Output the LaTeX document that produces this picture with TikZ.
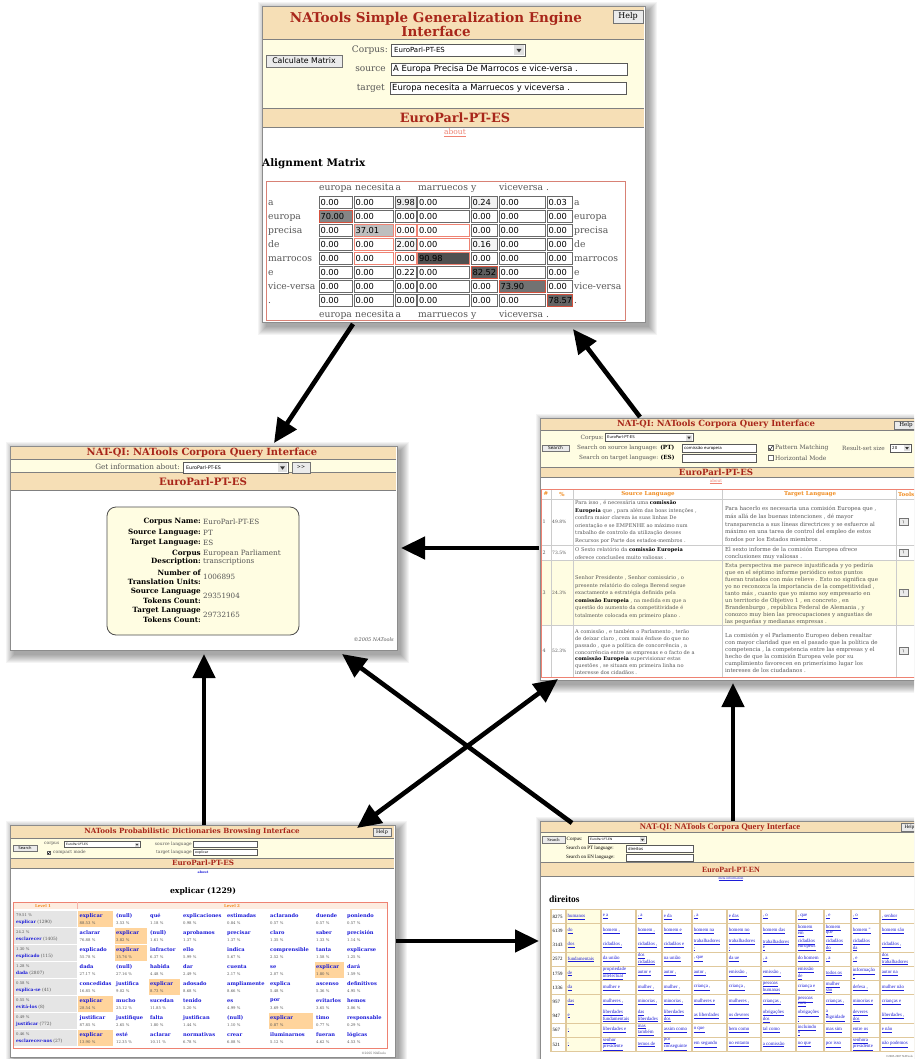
\documentclass[tikz,border=0pt]{standalone}
\usepackage{fontspec}
\setmainfont{DejaVu Serif}
\newfontfamily\dsans{DejaVu Sans}
\newfontfamily\tms{Liberation Serif}
\usetikzlibrary{arrows.meta}
\definecolor{wheat}{HTML}{F6DFB6}
\definecolor{lyel}{HTML}{FFFDE2}
\definecolor{ttl}{HTML}{A8261A}
\definecolor{gtx}{HTML}{555555}
\definecolor{sal}{HTML}{EE8272}
\definecolor{rb}{HTML}{D4503C}
\definecolor{mg}{HTML}{6A6A6A}
\definecolor{org}{HTML}{F08A1C}
\definecolor{lnk}{HTML}{1C1CD8}
\definecolor{hl}{HTML}{FFD49C}
\definecolor{tanc}{HTML}{E0C99C}
\definecolor{peach}{HTML}{FDECE0}
\definecolor{cA}{HTML}{858585}
\definecolor{cB}{HTML}{BEBEBE}
\definecolor{cC}{HTML}{505050}
\definecolor{cD}{HTML}{5C5C5C}
\definecolor{cE}{HTML}{727272}
\definecolor{cF}{HTML}{646464}
\newcommand\fsz[1]{\fontsize{#1}{#1}\selectfont}
\newcommand\fszl[2]{\fontsize{#1}{#2}\selectfont}
\newcommand\bk[1]{\textcolor{black}{\textbf{#1}}}
\newcommand\lk[1]{\underline{#1}}
\def\mkc#1{\mkcA#1||\relax}
\def\mkcA#1|#2|#3\relax{\lk{#1}\ifx\relax#2\relax\else\\\lk{#2}\fi}
\newcommand\wshadow[4]{\foreach \k in {1,...,9}{\fill[black,opacity=0.045] ({#1+5-\k},{#2+5-\k}) rectangle ({#3+3+\k},{#4+4+\k});}}
\newcommand\btn[6]{\draw[fill=black!8, draw=black!55, line width=0.6pt] (#1,#2) rectangle (#3,#4); \node[inner sep=0pt, font=#5] at ({(#1+#3)/2},{(#2+#4)/2}) {#6};}
\newcommand\tbox[4]{\draw[fill=white, draw=black!65, line width=0.6pt] (#1,#2) rectangle (#3,#4);}
\newcommand\sel[4]{\tbox{#1}{#2}{#3}{#4}\fill[black!12] ({#3-(#4-#2)+1},{#2+1}) rectangle ({#3-1},{#4-1}); \fill[black!80] ({#3-(#4-#2)/2-0.22*(#4-#2)},{(#2+#4)/2-0.1*(#4-#2)}) -- ({#3-(#4-#2)/2+0.22*(#4-#2)},{(#2+#4)/2-0.1*(#4-#2)}) -- ({#3-(#4-#2)/2},{(#2+#4)/2+0.2*(#4-#2)}) -- cycle;}
\newcommand\mrow[2]{%
 \foreach \val/\fc/\bc [count=\j] in {#2} {
  \pgfmathsetmacro\xa{{319,354,395,417.5,471,499,547}[\j-1]}
  \pgfmathsetmacro\xb{{352,393,416,469,497,545,572}[\j-1]}
  \pgfmathsetmacro\ya{196+14*(#1-1)}
  \draw[fill=\fc, draw=\bc, line width=0.9pt] (\xa,\ya) rectangle (\xb,\ya+12);
  \node[tx, font=\dsans\fsz{8.3}] at (\xa+1.3,\ya+6) {\val};
 }}
\newcommand\prow[5]{%
 \pgfmathsetmacro\ytop{911+17*(#1-1)}
 \fill[black!10] (14,\ytop) rectangle (76.5,\ytop+16);
 \node[tx, font=\fsz{3.8}, text=gtx] at (16,\ytop+4.5) {#2~\%};
 \node[tx, font=\fsz{4.4}] at (16,\ytop+11.5) {\textcolor{lnk}{\textbf{#3}} \textcolor{gtx}{(#4)}};
 \foreach \w/\p/\fc [count=\j] in {#5} {
   \pgfmathsetmacro\xa{{77.5,114,148,181,225,268,314,345,387}[\j-1]}
   \pgfmathsetmacro\xb{{77.5,114,148,181,225,268,314,345,387}[\j]}
   \fill[\fc] (\xa+0.8,\ytop) rectangle (\xb-0.8,\ytop+16);
   \node[tx, font=\bfseries\fsz{5.1}, text=lnk] at (\xa+2,\ytop+4.8) {\w};
   \node[tx, font=\fsz{3.8}, text=gtx] at (\xa+2,\ytop+11.8) {\p~\%};
 }}
\newcommand\nrow[4]{%
 \pgfmathsetmacro\ytop{910+14.2*(#1-1)}
 \pgfmathsetmacro\ymid{\ytop+6.7}
 \fill[white] (551.8,\ytop) rectangle (565.2,\ytop+13.4);
 \fill[lyel] (566.8,\ytop) rectangle (600.2,\ytop+13.4);
 \node[tx, font=\tms\fsz{4.9}] at (552.5,\ymid) {#2};
 \node[tx, font=\tms\fsz{4.9}, text=lnk] at (567.5,\ymid) {\lk{#3}};
 \foreach \cc [count=\j] in {#4} {
   \pgfmathsetmacro\xa{{601,636,662,692,727,761,796,824,851,880,916}[\j-1]}
   \pgfmathsetmacro\xb{{601,636,662,692,727,761,796,824,851,880,916}[\j]}
   \fill[white] (\xa+0.8,\ytop) rectangle (\xb-0.8,\ytop+13.4);
   \node[tx, align=left, font=\tms\fszl{4.9}{5.4}, text=lnk] at (\xa+1.6,\ymid) {\expandafter\mkc\expandafter{\cc}};
 }}
\begin{document}
\begin{tikzpicture}[x=1pt,y=-1pt,
 tx/.style={inner sep=0pt,anchor=west},
 bx/.style={inner sep=0pt,anchor=base west},
 cx/.style={inner sep=0pt},
 ex/.style={inner sep=0pt,anchor=east},
 win/.style={draw=black!45, fill=white, line width=0.8pt, inner sep=0pt, anchor=north west},
 bandln/.style={draw=black!50, line width=0.8pt},
 arr/.style={line width=4.6pt, -{Triangle[length=24pt,width=22pt]}},
 darr/.style={line width=4.6pt, {Triangle[length=24pt,width=22pt]}-{Triangle[length=24pt,width=22pt]}}]
\useasboundingbox (0,0) rectangle (914,1059);
\clip (0,0) rectangle (914,1059);
\fill[white] (0,0) rectangle (914,1059);
%%%%%%%%%%%%%%%% W1 top
\wshadow{262}{6}{645}{322}
\node[win, minimum width=383pt, minimum height=316pt] (w1) at (262,6) {};
\fill[wheat] (263,7) rectangle (644,39);
\fill[lyel] (263,39) rectangle (644,108);
\fill[wheat] (263,108) rectangle (644,127);
\draw[bandln] (263,39)--(644,39) (263,108)--(644,108) (263,127)--(644,127);
\node[cx, font=\bfseries\fszl{13.5}{14}, text=ttl, align=center] (w1t) at (436,24) {NATools Simple Generalization Engine\\Interface};
\btn{613}{10}{643}{23}{\fsz{8}}{Help}
\btn{266}{55}{342}{67}{\dsans\fsz{7.8}}{Calculate Matrix}
\node[ex, font=\fsz{9}, text=gtx] at (388,50) {Corpus:};
\sel{391}{44}{525}{56}
\node[tx, font=\dsans\fsz{7}] at (394,50) {EuroParl-PT-ES};
\node[ex, font=\fsz{9}, text=gtx] at (386,69) {source};
\tbox{391}{63}{627}{75}
\node[tx, font=\dsans\fsz{8.4}] at (393,69) {A Europa Precisa De Marrocos e vice-versa .};
\node[ex, font=\fsz{9}, text=gtx] at (385,88) {target};
\tbox{390}{82}{626}{94}
\node[tx, font=\dsans\fsz{8.4}] at (392,88) {Europa necesita a Marruecos y viceversa .};
\node[cx, font=\bfseries\fsz{12.8}, text=ttl] at (455,118) {EuroParl-PT-ES};
\node[cx, font=\fsz{7.5}, text=sal] at (455,133) {\underline{about}};
\node[tx, font=\bfseries\fsz{10.4}] at (262,164) {Alignment Matrix};
\draw[draw=sal!80!gray, line width=0.8pt] (266,181) rectangle (625,320);
\foreach \h/\x in {europa/319, necesita/355, a/395.5, marruecos/418, y/471, viceversa/499, ./546} {
  \node[bx, font=\fsz{9.2}, text=gtx] at (\x,191) {\h};
  \node[bx, font=\fsz{9.2}, text=gtx] at (\x,317) {\h};}
\foreach \r [count=\i] in {a,europa,precisa,de,marrocos,e,vice-versa,.} {
  \node[bx, font=\fsz{9.2}, text=gtx] at (268,{196+14*(\i-1)+9.2}) {\r};
  \node[bx, font=\fsz{9.2}, text=gtx] at (574,{196+14*(\i-1)+9.2}) {\r};}
\mrow{1}{0.00/white/mg, 0.00/white/mg, 9.98/black!8/mg, 0.00/white/mg, 0.24/black!5/mg, 0.00/white/mg, 0.03/white/mg}
\mrow{2}{70.00/cA/rb, 0.00/white/mg, 0.00/white/mg, 0.00/white/mg, 0.00/white/mg, 0.00/white/mg, 0.00/white/mg}
\mrow{3}{0.00/white/mg, 37.01/cB/sal, 0.00/white/sal, 0.00/white/sal, 0.00/white/mg, 0.00/white/mg, 0.00/white/mg}
\mrow{4}{0.00/white/mg, 0.00/white/sal, 2.00/black!4/mg, 0.00/white/sal, 0.16/black!4/mg, 0.00/white/mg, 0.00/white/mg}
\mrow{5}{0.00/white/mg, 0.00/white/sal, 0.00/white/sal, 90.98/cC/sal, 0.00/white/mg, 0.00/white/mg, 0.00/white/mg}
\mrow{6}{0.00/white/mg, 0.00/white/mg, 0.22/white/mg, 0.00/white/mg, 82.52/cD/rb, 0.00/white/mg, 0.00/white/mg}
\mrow{7}{0.00/white/mg, 0.00/white/mg, 0.00/white/mg, 0.00/white/mg, 0.00/white/mg, 73.90/cE/rb, 0.00/white/mg}
\mrow{8}{0.00/white/mg, 0.00/white/mg, 0.00/white/mg, 0.00/white/mg, 0.00/white/mg, 0.00/white/mg, 78.57/cF/rb}
%%%%%%%%%%%%%%%% W2 left middle
\wshadow{10}{446}{397}{650}
\node[win, minimum width=387pt, minimum height=204pt] (w2) at (10,446) {};
\fill[wheat] (11,447) rectangle (396,459);
\fill[lyel] (11,459) rectangle (396,472);
\fill[wheat] (11,472) rectangle (396,490);
\draw[bandln] (11,459)--(396,459) (11,472)--(396,472) (11,490)--(396,490);
\node[cx, font=\bfseries\fsz{9.9}, text=ttl] at (202,453) {NAT-QI: NATools Corpora Query Interface};
\node[ex, font=\fsz{7.3}, text=gtx] at (180,467) {Get information about:};
\sel{183}{462}{288}{473}
\node[tx, font=\dsans\fsz{4.8}] at (186,467.5) {EuroParl-PT-ES};
\btn{292}{462}{310}{473}{\dsans\fsz{4.8}}{>>}
\node[cx, font=\bfseries\fsz{10.2}, text=ttl] at (203,482) {EuroParl-PT-ES};
\draw[rounded corners=9pt, fill=lyel, draw=black!70, line width=0.8pt] (107,507) rectangle (299,635);
\foreach \yy/\lab in {522/Corpus Name:, 533/Source Language:, 543/Target Language:, 554/Corpus, 562/Description:, 573/Number of, 582/Translation Units:, 592/Source Language, 601/Tokens Count:, 611/Target Language, 620/Tokens Count:}
  \node[ex, font=\bfseries\fsz{7.2}] at (201,\yy) {\lab};
\foreach \yy/\val in {522/EuroParl-PT-ES, 533/PT, 543/ES, 554/European Parliament, 562/transcriptions, 577/1006895, 596/29351904, 615/29732165}
  \node[tx, font=\fsz{7.2}, text=gtx] at (203,\yy) {\val};
\node[ex, font=\itshape\fsz{5}, text=gtx] at (394,640) {©2005 NATools};
%%%%%%%%%%%%%%%% W3 right middle
\wshadow{540}{418}{930}{680}
\node[win, minimum width=380pt, minimum height=262pt] (w3) at (540,418) {};
\fill[wheat] (541,419) rectangle (920,430);
\fill[lyel] (541,430) rectangle (920,467);
\fill[wheat] (541,467) rectangle (920,477);
\draw[bandln] (541,430)--(920,430) (541,467)--(920,467) (541,477)--(920,477);
\node[cx, font=\bfseries\fsz{8.5}, text=ttl] at (716,424.5) {NAT-QI: NATools Corpora Query Interface};
\btn{894}{421}{918}{429}{\fsz{5.5}}{Help}
\node[ex, font=\fsz{5.8}, text=gtx] at (604,437.5) {Corpus:};
\sel{605}{433.5}{693}{441.5}
\node[tx, font=\dsans\fsz{3.8}] at (607,437.5) {EuroParl-PT-ES};
\btn{542}{445}{569}{451.5}{\dsans\fsz{4.3}}{Search}
\node[tx, font=\fsz{5.7}, text=gtx] at (577,448) {Search on source language: \bk{(PT)}};
\tbox{682}{444}{756}{452}
\node[tx, font=\dsans\fsz{4}] at (684,448) {comissão europeia};
\node[tx, font=\fsz{5.7}, text=gtx] at (579,458) {Search on target language: \bk{(ES)}};
\tbox{682}{454}{756}{462}
\draw[black!60, fill=white] (768,445.5) rectangle (773,450.5);
\draw[black, line width=0.5pt] (768.8,448) -- (770.2,449.8) -- (772.5,446);
\node[tx, font=\fsz{6}, text=gtx] at (775,448) {Pattern Matching};
\draw[black!60, fill=white] (768,455.5) rectangle (773,460.5);
\node[tx, font=\fsz{6}, text=gtx] at (775,458) {Horizontal Mode};
\node[tx, font=\fsz{5.8}, text=gtx] at (842,448) {Result-set size};
\sel{890}{444}{911}{452}
\node[tx, font=\dsans\fsz{4}] at (892,448) {20};
\node[cx, font=\bfseries\fsz{8.6}, text=ttl] at (716,472) {EuroParl-PT-ES};
\node[cx, font=\fsz{4.2}, text=sal] at (716,481.5) {\underline{about}};
\fill[lyel] (541,560) rectangle (920,625);
\draw[black!20, line width=0.5pt] (551,489)--(551,677) (573,489)--(573,677) (722,489)--(722,677) (896,489)--(896,677);
\draw[black!20, line width=0.5pt] (541,499)--(920,499) (541,545)--(920,545) (541,560)--(920,560) (541,625)--(920,625);
\draw[sal, line width=0.8pt] (920,677) -- (541,677) -- (541,489) -- (920,489);
\node[cx, font=\bfseries\fsz{5.5}, text=org] at (546,494) {\#};
\node[cx, font=\bfseries\fsz{5.5}, text=org] at (562,494) {\%};
\node[cx, font=\bfseries\fsz{5.5}, text=org] at (648,494) {Source Language};
\node[cx, font=\bfseries\fsz{5.5}, text=org] at (810,494) {Target Language};
\node[tx, font=\bfseries\fsz{5.5}, text=org] at (898,494) {Tools};
\foreach \n/\pc/\yy in {1/49.8/522, 2/73.5/552.5, 3/24.3/592.5, 4/52.3/651} {
  \node[tx, font=\fsz{4.8}, text=gtx] at (542.5,\yy) {\n};
  \node[tx, font=\fsz{4.5}, text=gtx] at (552,\yy) {\pc\%};
  \btn{899}{\yy-3.5}{908}{\yy+3.5}{\fsz{4}}{\textbackslash}}
\node[tx, align=left, font=\fszl{5.1}{7.5}, text=gtx] at (575,522) {Para isso , é necessária uma \bk{comissão}\\\bk{Europeia} que , para além das boas intenções ,\\confira maior clareza às suas linhas De\\orientação e se EMPENHE ao máximo num\\trabalho de controlo da utilização desses\\Recursos por Parte dos estados-membros .};
\node[tx, align=left, font=\fszl{5.5}{7.6}, text=gtx] at (725,524.5) {Para hacerlo es necesaria una comisión Europea que ,\\más allá de las buenas intenciones , dé mayor\\transparencia a sus líneas directrices y se esfuerce al\\máximo en una tarea de control del empleo de estos\\fondos por los Estados miembros .};
\node[tx, align=left, font=\fszl{5.1}{7.2}, text=gtx] at (575,553.5) {O Sexto relatório da \bk{comissão Europeia}\\oferece conclusões muito valiosas .};
\node[tx, align=left, font=\fszl{5.5}{7.2}, text=gtx] at (725,553.5) {El sexto informe de la comisión Europea ofrece\\conclusiones muy valiosas .};
\node[tx, align=left, font=\fszl{5.1}{7.5}, text=gtx] at (575,597) {Senhor Presidente , Senhor comissário , o\\presente relatório do colega Berend segue\\exactamente a estratégia definida pela\\\bk{comissão Europeia} , na medida em que a\\questão do aumento da competitividade é\\totalmente colocada em primeiro plano .};
\node[tx, align=left, font=\fszl{5.5}{7}, text=gtx] at (725,594) {Esta perspectiva me parece injustificada y yo pediría\\que en el séptimo informe periódico estos puntos\\fueran tratados con más relieve . Esto no significa que\\yo no reconozca la importancia de la competitividad ,\\tanto más , cuanto que yo mismo soy empresario en\\un territorio de Objetivo 1 , en concreto , en\\Brandenburgo , república Federal de Alemania , y\\conozco muy bien las preocupaciones y angustias de\\las pequeñas y medianas empresas .};
\node[tx, align=left, font=\fszl{5.1}{6.9}, text=gtx] at (575,652) {A comissão , e também o Parlamento , terão\\de deixar claro , com mais ênfase do que no\\passado , que a política de concorrência , a\\concorrência entre as empresas e o facto de a\\\bk{comissão Europeia} supervisionar estas\\questões , se situam em primeira linha no\\interesse dos cidadãos .};
\node[tx, align=left, font=\fszl{5.5}{7}, text=gtx] at (725,653) {La comisión y el Parlamento Europeo deben resaltar\\con mayor claridad que en el pasado que la política de\\competencia , la competencia entre las empresas y el\\hecho de que la comisión Europea vele por su\\cumplimiento favorecen en primerísimo lugar los\\intereses de los ciudadanos .};
%%%%%%%%%%%%%%%% W4 bottom left
\wshadow{10}{825}{395}{1057}
\node[win, minimum width=385pt, minimum height=232pt] (w4) at (10,825) {};
\fill[wheat] (11,826) rectangle (394,838);
\fill[lyel] (11,838) rectangle (394,858);
\fill[wheat] (11,858) rectangle (394,868);
\draw[bandln] (11,838)--(394,838) (11,858)--(394,858) (11,868)--(394,868);
\node[cx, font=\bfseries\fsz{7.1}, text=ttl] at (192,832) {NATools Probabilistic Dictionaries Browsing Interface};
\btn{373}{828}{391}{836.5}{\fsz{4.8}}{Help}
\btn{13}{845}{37}{851}{\dsans\fsz{3.8}}{Search}
\node[tx, font=\fsz{4.4}, text=gtx] at (44,844) {corpus};
\sel{64}{841.5}{140}{847.5}
\node[tx, font=\dsans\fsz{3}] at (66,844.5) {EuroParl-PT-ES};
\draw[black!60, fill=white] (47,850.8) rectangle (50.5,854.3);
\draw[black, line width=0.4pt] (47.5,852.5) -- (48.6,853.8) -- (50.2,851.2);
\node[tx, font=\fsz{4.4}, text=gtx] at (53,852.5) {compact mode};
\node[ex, font=\fsz{4.4}, text=gtx] at (192,844) {source language};
\tbox{193}{841}{257}{847}
\node[ex, font=\fsz{4.4}, text=gtx] at (192,852.5) {target language};
\tbox{193}{849.5}{257}{855.5}
\node[tx, font=\dsans\fsz{3.3}] at (195,852.5) {explicar};
\node[cx, font=\bfseries\fsz{7.2}, text=ttl] at (203,863) {EuroParl-PT-ES};
\node[cx, font=\bfseries\fsz{3.3}, text=lnk] at (203,872) {about};
\node[cx, font=\bfseries\fsz{7.7}] at (203,891) {explicar (1229)};
\fill[peach] (13,902) rectangle (387,909);
\draw[sal, line width=0.8pt] (13,902) rectangle (387,1048);
\draw[sal!60, line width=0.4pt] (76.7,902) -- (76.7,909);
\node[cx, font=\bfseries\fsz{4}, text=org] at (43,905.5) {Level 1};
\node[cx, font=\bfseries\fsz{4}, text=org] at (232,905.5) {Level 2};
\prow{1}{79.51}{explicar}{1290}{explicar/88.53/hl, (null)/3.53/white, qué/1.18/white, explicaciones/0.98/white, estimadas/0.84/white, aclarando/0.57/white, duende/0.57/white, poniendo/0.57/white}
\prow{2}{24.2}{esclarecer}{1405}{aclarar/76.88/white, explicar/3.82/hl, (null)/1.61/white, aprobamos/1.37/white, precisar/1.37/white, claro/1.35/white, saber/1.33/white, precisión/1.14/white}
\prow{3}{1.30}{explicado}{115}{explicado/55.78/white, explicar/15.76/hl, infractor/6.37/white, ello/5.99/white, indica/5.67/white, comprensible/2.52/white, tanta/1.58/white, explicarse/1.25/white}
\prow{4}{1.28}{dada}{2807}{dada/27.17/white, (null)/27.16/white, habida/4.48/white, dar/2.49/white, cuenta/2.17/white, se/2.07/white, explicar/1.80/hl, dará/1.59/white}
\prow{5}{0.58}{explica-se}{41}{concedidas/16.85/white, justifica/9.02/white, explicar/8.73/hl, adosado/8.68/white, ampliamente/8.66/white, explica/5.48/white, ascenso/5.36/white, definitivos/4.95/white}
\prow{6}{0.55}{evitá-los}{8}{explicar/28.54/hl, mucho/25.12/white, sucedan/11.85/white, tenido/5.20/white, es/4.99/white, por/3.69/white, evitarlos/3.65/white, hemos/3.06/white}
\prow{7}{0.49}{justificar}{772}{justificar/87.85/white, justifique/2.65/white, falta/1.80/white, justifican/1.44/white, (null)/1.10/white, explicar/0.87/hl, timo/0.77/white, responsable/0.29/white}
\prow{8}{0.46}{esclarecer-nos}{27}{explicar/13.90/hl, esté/12.35/white, aclarar/10.11/white, normativas/6.78/white, crear/6.08/white, iluminarnos/5.12/white, fueran/4.62/white, lógicas/4.53/white}
\node[ex, font=\fsz{3}, text=gtx] at (386,1053) {©2005 NATools};
%%%%%%%%%%%%%%%% W5 bottom right
\wshadow{540}{821}{930}{1062}
\node[win, minimum width=380pt, minimum height=240pt] (w5) at (540,821) {};
\fill[wheat] (541,822) rectangle (920,832);
\fill[lyel] (541,832) rectangle (920,862);
\fill[wheat] (541,862) rectangle (920,876);
\draw[bandln] (541,832)--(920,832) (541,862)--(920,862) (541,876)--(920,876);
\node[cx, font=\tms\bfseries\fsz{8.6}, text=ttl] at (720,827) {NAT-QI: NATools Corpora Query Interface};
\btn{901}{823}{918}{831}{\tms\fsz{5}}{Help}
\btn{542}{836.5}{565}{843}{\tms\fsz{4.5}}{Search}
\node[tx, font=\tms\fsz{5}] at (566.5,839.7) {Corpus:};
\sel{588}{836}{646}{843}
\node[tx, font=\dsans\fsz{3}] at (590,839.5) {EuroParl-PT-EN};
\node[tx, font=\tms\fsz{5}] at (566,848.5) {Search on PT language:};
\tbox{626}{845}{693}{852}
\node[tx, font=\dsans\fsz{4}] at (628,848.5) {direitos};
\node[tx, font=\tms\fsz{5}] at (566,857.5) {Search on EN language:};
\tbox{626}{854}{693}{861}
\node[cx, font=\tms\bfseries\fsz{8}, text=ttl] at (731,869.5) {EuroParl-PT-EN};
\node[cx, font=\tms\fsz{3.6}, text=lnk] at (731,879) {\underline{meta information}};
\node[tx, font=\tms\bfseries\fsz{9.5}] at (549,899) {direitos};
\fill[tanc] (550,909) rectangle (920,1052);
\nrow{1}{8275}{humanos}{e a, {, a}, e da, {, a}, e das, {, o}, {, que}, {, e}, {, o}, {, senhor}}
\nrow{2}{6139}{do}{{homem ,}, {homem ,}, homem e, homem na, homem no, homem das, homem|em, homem|que, homem ", homem são}
\nrow{3}{3143}{dos}{{cidadãos ,}, {cidadãos ,}, cidadãos e, {trabalhadores|,}, {trabalhadores|,}, trabalhadores|e, cidadãos|europeus, cidadãos|do, cidadãos|da, {cidadãos ,}}
\nrow{4}{2572}{fundamentais}{da união, dos|cidadãos, na união, {, que}, da ue, {, a}, do homem, {, a}, {, e}, dos|trabalhadores}
\nrow{5}{1759}{de}{propriedade|intelectual, autor e, {autor ,}, {autor ,}, {emissão ,}, {emissão ,}, emissão|de, todos os, informação|e, autor na}
\nrow{6}{1336}{da}{mulher e, {mulher ,}, {mulher ,}, {criança ,}, {criança ,}, pessoas|humanas, criança e, mulher|são, {defesa ,}, mulher não}
\nrow{7}{957}{das}{{mulheres ,}, {minorias ,}, {minorias ,}, mulheres e, {mulheres ,}, {crianças ,}, pessoas|com, {crianças ,}, minorias e, crianças e}
\nrow{8}{947}{e}{liberdades|fundamentais, das|liberdades, liberdades|dos, as liberdades, os deveres, obrigações|dos, {obrigações|,}, a|dignidade, deveres|dos, {liberdades ,}}
\nrow{9}{567}{,}{liberdades e, mas|também, assim como, o que, bem como, tal como, incluindo|o, mas sim, entre os, e não}
\nrow{10}{521}{,}{senhor|presidente, temos de, por|conseguinte, em segundo, no entanto, a comissão, no que, por isso, senhora|presidente, não podemos}
\node[ex, font=\tms\fsz{3}, text=gtx] at (913,1056) {©2005-2007 NATools};
%%%%%%%%%%%%%%%% arrows
\coordinate (a1s) at (353,324); \coordinate (a1e) at (274,443);
\coordinate (a2s) at (640,417); \coordinate (a2e) at (573,329);
\coordinate (a3s) at (539,548); \coordinate (a3e) at (401,548);
\coordinate (a4s) at (204,825); \coordinate (a4e) at (204,654);
\coordinate (a5s) at (357,828); \coordinate (a5e) at (558,679);
\coordinate (a6s) at (572,823); \coordinate (a6e) at (342,654);
\coordinate (a7s) at (733,821); \coordinate (a7e) at (733,683);
\coordinate (a8s) at (396,941); \coordinate (a8e) at (539,941);
\draw[arr] (a1s) -- (a1e);
\draw[arr] (a2s) -- (a2e);
\draw[arr] (a3s) -- (a3e);
\draw[arr] (a4s) -- (a4e);
\draw[darr] (a5s) -- (a5e);
\draw[arr] (a6s) -- (a6e);
\draw[arr] (a7s) -- (a7e);
\draw[arr] (a8s) -- (a8e);
\end{tikzpicture}
\end{document}
